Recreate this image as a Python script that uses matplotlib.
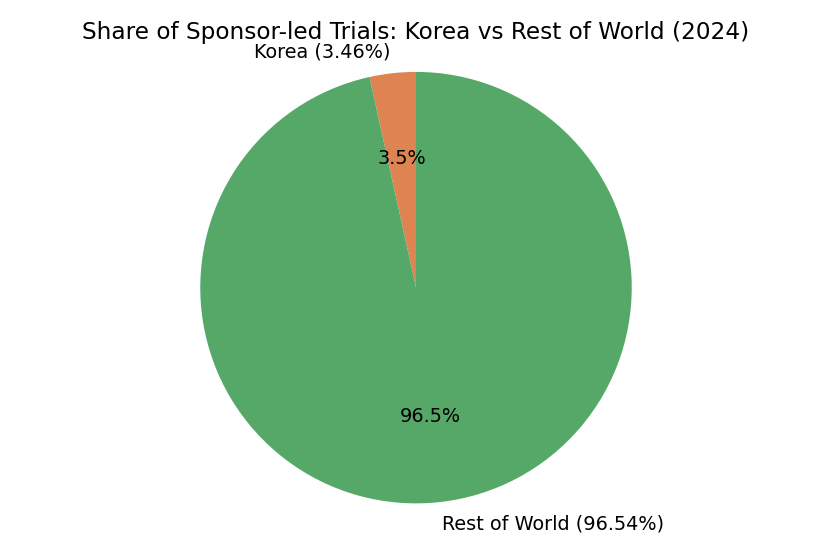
import matplotlib.pyplot as plt

labels = ['Korea (3.46%)', 'Rest of World (96.54%)']
shares = [3.46, 96.54]
colors = ['#DD8452', '#55A868']

fig, ax = plt.subplots(figsize=(6, 554 / (832 / 6)), dpi=832 / 6)
ax.pie(shares, labels=labels, colors=colors, autopct='%1.1f%%', startangle=90)
ax.axis('equal')
ax.set_title('Share of Sponsor-led Trials: Korea vs Rest of World (2024)')
plt.tight_layout()
plt.savefig('out.png', dpi=832 / 6)
